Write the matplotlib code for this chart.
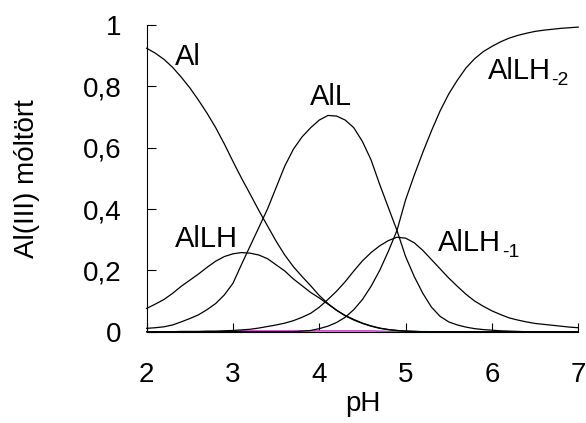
# -*- coding: utf-8 -*-

import numpy as np
import matplotlib
matplotlib.use('Agg')
import matplotlib.pyplot as plt

# pH grid of the speciation calculation
ph = [2.0, 2.1, 2.2, 2.3, 2.4, 2.5, 2.6, 2.7, 2.8, 2.9,
      3.0, 3.1, 3.2, 3.3, 3.4, 3.5, 3.6, 3.7, 3.8, 3.9,
      4.0, 4.1, 4.2, 4.3, 4.4, 4.5, 4.6, 4.7, 4.8, 4.9,
      5.0, 5.1, 5.2, 5.3, 5.4, 5.5, 5.6, 5.7, 5.8, 5.9,
      6.0, 6.1, 6.2, 6.3, 6.4, 6.5, 6.6, 6.7, 6.8, 6.9, 7.0]

# mole fractions of the Al(III) species
al_free = [0.924, 0.908, 0.888, 0.862, 0.830, 0.795, 0.755, 0.712, 0.665, 0.612,
           0.555, 0.500, 0.448, 0.395, 0.345, 0.295, 0.250, 0.212, 0.180, 0.150,
           0.118, 0.092, 0.070, 0.053, 0.040, 0.028, 0.019, 0.012, 0.007, 0.004,
           0.002, 0.001, 0, 0, 0, 0, 0, 0, 0, 0,
           0, 0, 0, 0, 0, 0, 0, 0, 0, 0, 0]
al_lh = [0.076, 0.090, 0.105, 0.125, 0.148, 0.168, 0.188, 0.210, 0.230, 0.245,
         0.254, 0.258, 0.256, 0.250, 0.238, 0.218, 0.198, 0.172, 0.150, 0.128,
         0.110, 0.090, 0.070, 0.052, 0.038, 0.027, 0.018, 0.011, 0.007, 0.004,
         0.002, 0.001, 0, 0, 0, 0, 0, 0, 0, 0,
         0, 0, 0, 0, 0, 0, 0, 0, 0, 0, 0]
al_l = [0.011, 0.013, 0.016, 0.022, 0.032, 0.043, 0.055, 0.072, 0.092, 0.120,
        0.158, 0.220, 0.280, 0.340, 0.400, 0.470, 0.540, 0.595, 0.635, 0.665,
        0.690, 0.705, 0.703, 0.690, 0.665, 0.620, 0.560, 0.480, 0.405, 0.330,
        0.245, 0.180, 0.125, 0.080, 0.050, 0.032, 0.022, 0.015, 0.010, 0.007,
        0.005, 0.003, 0.002, 0.001, 0, 0, 0, 0, 0, 0, 0]
al_lh_m1 = [0, 0, 0, 0, 0.001, 0.001, 0.001, 0.002, 0.002, 0.003,
            0.004, 0.006, 0.008, 0.012, 0.017, 0.022, 0.028, 0.036, 0.047, 0.060,
            0.080, 0.105, 0.132, 0.163, 0.198, 0.231, 0.258, 0.280, 0.297, 0.308,
            0.305, 0.290, 0.265, 0.235, 0.205, 0.175, 0.148, 0.122, 0.100, 0.083,
            0.068, 0.056, 0.045, 0.038, 0.032, 0.027, 0.024, 0.021, 0.018, 0.015, 0.013]
al_lh_m2 = [0, 0, 0, 0, 0, 0, 0, 0, 0, 0,
            0, 0, 0, 0, 0, 0, 0, 0, 0.002, 0.004,
            0.010, 0.018, 0.030, 0.047, 0.072, 0.105, 0.148, 0.200, 0.262, 0.330,
            0.430, 0.510, 0.585, 0.655, 0.720, 0.775, 0.820, 0.860, 0.890, 0.913,
            0.930, 0.945, 0.957, 0.966, 0.973, 0.979, 0.983, 0.986, 0.989, 0.991, 0.993]
# minor species, hardly above zero
minor_a = [0, 0, 0, 0, 0, 0, 0, 0, 0, 0.001,
           0.002, 0.003, 0.003, 0.003, 0.003, 0.003, 0.003, 0.003, 0.003, 0.003,
           0.003, 0.003, 0.003, 0.003, 0.003, 0.003, 0.003, 0.002, 0.001, 0,
           0, 0, 0, 0, 0, 0, 0, 0, 0, 0,
           0, 0, 0, 0, 0, 0, 0, 0, 0, 0, 0]
minor_b = [0, 0, 0, 0, 0, 0, 0, 0, 0, 0,
           0.001, 0.001, 0.001, 0.001, 0.001, 0.001, 0.001, 0.001, 0.001, 0.001,
           0.001, 0.001, 0.001, 0.001, 0.001, 0.001, 0.001, 0.001, 0.001, 0.001,
           0.001, 0.001, 0.001, 0, 0, 0, 0, 0, 0, 0,
           0, 0, 0, 0, 0, 0, 0, 0, 0, 0, 0]

y_ticks = [0, 0.2, 0.4, 0.6, 0.8, 1]
y_ticklabels = ['0', '0,2', '0,4', '0,6', '0,8', '1']
x_ticks = [2, 3, 4, 5, 6, 7]

plt.rcParams['font.family'] = ['Liberation Sans', 'DejaVu Sans']
LW = 0.9

fig = plt.figure(figsize=(5.86, 4.23), dpi=100)
ax = fig.add_axes([0.2503, 0.2158, 0.7364, 0.7252])

ax.plot(ph, minor_b, color='#9fcfcf', lw=LW)
ax.plot(ph, minor_a, color='#cc33cc', lw=LW)
for series in (al_free, al_lh, al_l, al_lh_m1, al_lh_m2):
    ax.plot(ph, series, color='k', lw=LW, clip_on=False)

ax.set_xlim(2, 7)
ax.set_ylim(0, 1)
ax.set_xticks(x_ticks)
ax.set_yticks(y_ticks)
ax.set_yticklabels(y_ticklabels)
for s in ('top', 'right'):
    ax.spines[s].set_visible(False)
for s in ('left', 'bottom'):
    ax.spines[s].set_linewidth(0.8)
ax.tick_params(direction='in', length=6.5, width=0.8, labelsize=20)
ax.tick_params(axis='x', pad=22)
ax.tick_params(axis='y', pad=18)

ax.set_xlabel('pH', fontsize=20, labelpad=2)
ax.set_ylabel('Al(III) móltört', fontsize=20, labelpad=31)

# species names, charged ones get a small subscript after the label
LABEL_SIZE = 21
SUB_SIZE = 14
ax.text(2.33, 0.87, 'Al', fontsize=LABEL_SIZE, va='baseline')
ax.text(3.89, 0.739, 'AlL', fontsize=LABEL_SIZE, va='baseline')
ax.text(2.33, 0.277, 'AlLH', fontsize=LABEL_SIZE, va='baseline')
for x, y, sub in [(5.38, 0.264, '-1'), (5.95, 0.823, '-2')]:
    t = ax.text(x, y, 'AlLH', fontsize=LABEL_SIZE, va='baseline')
    ax.annotate(sub, xy=(1, 0), xycoords=t, xytext=(0.5, 0), textcoords='offset points',
                fontsize=SUB_SIZE, va='baseline')

fig.savefig('out.png', dpi=100)
